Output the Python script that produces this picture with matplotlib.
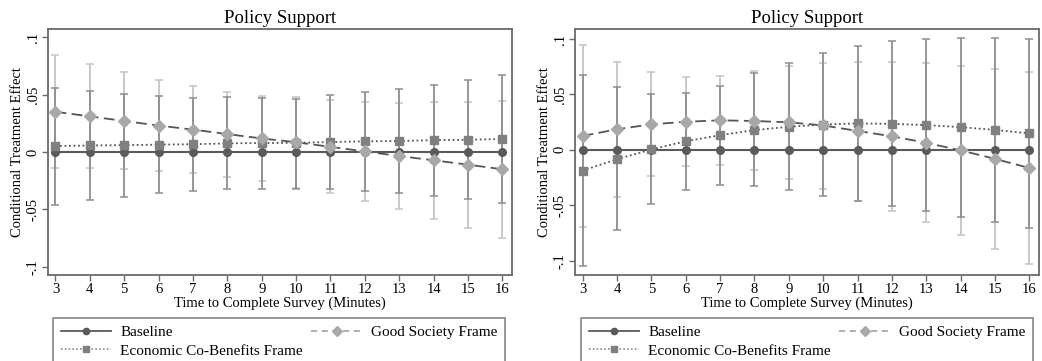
import numpy as np
import matplotlib
matplotlib.use('Agg')
import matplotlib.pyplot as plt
from matplotlib.lines import Line2D

plt.rcParams['font.family'] = ['Liberation Serif', 'DejaVu Serif']

#--------------------------------------------------
# data
minutes = [3, 4, 5, 6, 7, 8, 9, 10, 11, 12, 13, 14, 15, 16]
baseline = [0.0]*14

# left panel
L_gs    = [0.035, 0.031, 0.027, 0.023, 0.0195, 0.0156, 0.0118, 0.0085, 0.0045, 0.0005, -0.0035, -0.0072, -0.011, -0.015]
L_gs_hi = [0.084, 0.0765, 0.0695, 0.0625, 0.0573, 0.0526, 0.0488, 0.048, 0.045, 0.0439, 0.043, 0.0436, 0.0439, 0.0448]
L_gs_lo = [-0.0137, -0.0137, -0.0148, -0.0163, -0.0183, -0.0215, -0.0253, -0.031, -0.036, -0.043, -0.050, -0.058, -0.066, -0.0747]
L_ec    = [0.0052, 0.0057, 0.006, 0.0064, 0.0068, 0.0075, 0.0078, 0.008, 0.0087, 0.0093, 0.0096, 0.0103, 0.0107, 0.0113]
L_ec_hi = [0.0555, 0.0535, 0.0506, 0.0488, 0.0474, 0.0477, 0.0474, 0.046, 0.050, 0.0526, 0.0552, 0.0587, 0.0625, 0.0669]
L_ec_lo = [-0.046, -0.042, -0.039, -0.036, -0.034, -0.032, -0.032, -0.0326, -0.0326, -0.034, -0.036, -0.038, -0.041, -0.044]

# right panel
R_gs    = [0.0125, 0.0185, 0.023, 0.0253, 0.0266, 0.026, 0.0248, 0.022, 0.017, 0.0122, 0.0063, -0.0005, -0.0082, -0.0164]
R_gs_hi = [0.0946, 0.0796, 0.070, 0.0655, 0.0667, 0.0709, 0.076, 0.0787, 0.0796, 0.0796, 0.078, 0.076, 0.073, 0.0703]
R_gs_lo = [-0.0697, -0.0426, -0.024, -0.0147, -0.0135, -0.0186, -0.0264, -0.0354, -0.046, -0.055, -0.0655, -0.077, -0.0895, -0.103]
R_ec    = [-0.0188, -0.0085, 0.0003, 0.0077, 0.0132, 0.0178, 0.0208, 0.0228, 0.0238, 0.0234, 0.0223, 0.0204, 0.018, 0.0148]
R_ec_hi = [0.0676, 0.0565, 0.0502, 0.051, 0.058, 0.069, 0.0787, 0.0871, 0.0937, 0.0979, 0.100, 0.1012, 0.1012, 0.100]
R_ec_lo = [-0.105, -0.0727, -0.0492, -0.036, -0.0315, -0.0324, -0.0366, -0.0414, -0.0465, -0.051, -0.0556, -0.0604, -0.065, -0.0706]

yticks = [-0.1, -0.05, 0, 0.05, 0.1]
ytick_labels = ['-.1', '-.05', '0', '.05', '.1']
title = 'Policy Support'
xlab = 'Time to Complete Survey (Minutes)'
ylab = 'Conditional Treatment Effect'
names = ['Baseline', 'Economic Co-Benefits Frame', 'Good Society Frame']

c_base = '#5a5a5a'; c_ec = '#808080'; c_gs = '#a8a8a8'
c_ecbar = '#8e8e8e'; c_gsbar = '#c4c4c4'; c_frame = '#6a6a6a'
#--------------------------------------------------
def panel(ax, gs, gs_hi, gs_lo, ec, ec_hi, ec_lo, ylim):
  x = np.array(minutes)
  ax.errorbar(x, gs, yerr=[np.array(gs)-np.array(gs_lo), np.array(gs_hi)-np.array(gs)], fmt='none',
              ecolor=c_gsbar, elinewidth=1.3, capsize=3, capthick=1.1, zorder=1)
  ax.errorbar(x, ec, yerr=[np.array(ec)-np.array(ec_lo), np.array(ec_hi)-np.array(ec)], fmt='none',
              ecolor=c_ecbar, elinewidth=1.3, capsize=3, capthick=1.1, zorder=2)
  ax.plot(x, baseline, color=c_base, lw=1.5, zorder=3)
  ax.plot(x, baseline, 'o', color=c_base, ms=5.5, zorder=4)
  ax.plot(x, ec, color='#555555', lw=1.3, ls=(0, (1, 1.5)), zorder=3)
  ax.plot(x, ec, 's', color=c_ec, ms=6, zorder=4)
  ax.plot(x, gs, color='#555555', lw=1.3, ls=(0, (6, 3)), zorder=3)
  ax.plot(x, gs, 'D', color=c_gs, ms=6, zorder=5)
  ax.set_xlim(2.78, 16.28); ax.set_ylim(*ylim)
  ax.set_xticks(minutes)
  ax.set_yticks(yticks); ax.set_yticklabels(ytick_labels, rotation=90, va='center')
  ax.tick_params(direction='out', length=4, width=1, color=c_frame, labelsize=10.5, pad=2)
  for s in ax.spines.values():
    s.set_color(c_frame); s.set_linewidth(1.3)
  ax.set_title(title, fontsize=13.5, pad=4)
  ax.set_xlabel(xlab, fontsize=10.5, labelpad=0)
  ax.set_ylabel(ylab, fontsize=10.5, labelpad=2)

fig = plt.figure(figsize=(10.42, 3.61), dpi=100)
ax1 = fig.add_axes([0.046, 0.2382, 0.4453, 0.6814])
ax2 = fig.add_axes([0.5518, 0.2382, 0.4453, 0.6814])
panel(ax1, L_gs, L_gs_hi, L_gs_lo, L_ec, L_ec_hi, L_ec_lo, (-0.107, 0.107))
panel(ax2, R_gs, R_gs_hi, R_gs_lo, R_ec, R_ec_hi, R_ec_lo, (-0.113, 0.109))

handles = [Line2D([], [], color=c_base, lw=1.3, marker='o', ms=4.5),
           Line2D([], [], color='#777777', lw=1.1, ls=(0, (1, 1.5)), marker='s', ms=5, mfc=c_ec, mec=c_ec),
           Line2D([], [], color='#999999', lw=1.1, ls=(0, (4, 3)), marker='D', ms=5, mfc=c_gs, mec=c_gs)]
for x0, x1 in [(53, 505), (581, 1033)]:
  leg = fig.legend(handles, names, ncol=2, loc='upper left', mode='expand',
                   bbox_to_anchor=(x0/1042, -0.05, (x1-x0)/1042, 1-318/361+0.05),
                   fontsize=11, frameon=True, fancybox=False, handlelength=3.3,
                   borderaxespad=0, labelspacing=0.3, borderpad=0.5, handletextpad=0.6, columnspacing=2)
  leg.get_frame().set_edgecolor(c_frame); leg.get_frame().set_linewidth(1.2)

fig.savefig('out.png', dpi=100)
